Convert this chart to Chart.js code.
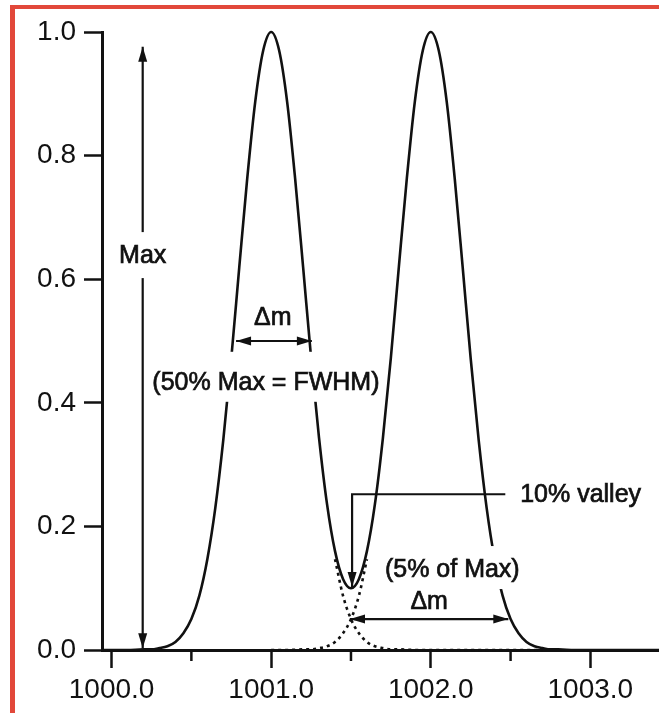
<!DOCTYPE html>
<html>
<head>
  <meta charset="UTF-8">
  <title>Resolution: 10% valley and FWHM</title>
  <script src="https://cdn.jsdelivr.net/npm/chart.js"></script>
  <style>
    body { margin: 0; background: #fff; }
    #wrap { position: relative; width: 659px; height: 713px; }
    #frame { position: absolute; left: 10px; top: 5px; right: 0; bottom: 0;
             border-left: 5px solid #e2483a; border-top: 4px solid #e2483a; pointer-events: none; }
    canvas { display: block; }
  </style>
</head>
<body>
  <div id="wrap">
    <canvas id="chart" width="659" height="713"></canvas>
    <div id="frame"></div>
  </div>

  <script>
    // mass axis (u) and the summed signal (solid line)
    const mass = [999.94, 1000.00, 1000.10, 1000.20, 1000.25, 1000.30, 1000.35, 1000.40, 1000.45, 1000.50,
                  1000.55, 1000.60, 1000.65, 1000.70, 1000.75, 1000.80, 1000.85, 1000.90, 1000.95, 1001.00,
                  1001.05, 1001.10, 1001.15, 1001.20, 1001.25, 1001.30, 1001.35, 1001.40, 1001.45, 1001.50,
                  1001.55, 1001.60, 1001.65, 1001.70, 1001.75, 1001.80, 1001.85, 1001.90, 1001.95, 1002.00,
                  1002.05, 1002.10, 1002.15, 1002.20, 1002.25, 1002.30, 1002.35, 1002.40, 1002.45, 1002.50,
                  1002.55, 1002.60, 1002.65, 1002.70, 1002.75, 1002.80, 1002.90, 1003.00, 1003.43];
    const signal = [0, 0, 0, 0.001, 0.001, 0.003, 0.006, 0.013, 0.027, 0.050,
                    0.088, 0.147, 0.230, 0.340, 0.472, 0.619, 0.763, 0.887, 0.970, 1.000,
                    0.970, 0.887, 0.763, 0.620, 0.473, 0.343, 0.236, 0.160, 0.115, 0.100,
                    0.115, 0.160, 0.236, 0.343, 0.473, 0.620, 0.763, 0.887, 0.970, 1.000,
                    0.970, 0.887, 0.763, 0.619, 0.472, 0.340, 0.230, 0.147, 0.088, 0.050,
                    0.027, 0.013, 0.006, 0.003, 0.001, 0.001, 0, 0, 0];

    // single peaks near the valley (dotted)
    const peak1Mass = [1001.40, 1001.45, 1001.50, 1001.55, 1001.60, 1001.65, 1001.70, 1001.75, 1001.80, 1001.90, 1002.00, 1002.70];
    const peak1 = [0.147, 0.088, 0.050, 0.027, 0.013, 0.006, 0.003, 0.001, 0.001, 0, 0, 0];
    const peak2Mass = [1001.00, 1001.10, 1001.20, 1001.25, 1001.30, 1001.35, 1001.40, 1001.45, 1001.50, 1001.55, 1001.60];
    const peak2 = [0, 0, 0.001, 0.001, 0.003, 0.006, 0.013, 0.027, 0.050, 0.088, 0.147];

    const xTicks = [1000, 1001, 1002, 1003];
    const xMinorTicks = [1000.5, 1001.5, 1002.5];
    const yTicks = [0, 0.2, 0.4, 0.6, 0.8, 1.0];

    // annotations in data coordinates
    const labels = [
      { text: 'Max', x: 1000.195, y: 0.639, box: [12, 12] },
      { text: 'Δm', x: 1001.01, y: 0.539 },
      { text: '(50% Max = FWHM)', x: 1000.967, y: 0.434, box: [19, 9] },
      { text: '(5% of Max)', x: 1002.135, y: 0.131, box: [12, 9] },
      { text: 'Δm', x: 1001.99, y: 0.079 },
      { text: '10% valley', x: 1002.56, y: 0.252, align: 'left' }
    ];
    const arrows = [
      { pts: [[1000.195, 0.976], [1000.195, 0.003]], start: true, end: true },
      { pts: [[1000.78, 0.5], [1001.255, 0.5]], start: true, end: true },
      { pts: [[1001.494, 0.05], [1002.486, 0.05]], start: true, end: true },
      { pts: [[1002.467, 0.252], [1001.507, 0.252], [1001.507, 0.102]], end: true }
    ];

    const ink = '#111';
    const tickFont = { family: 'Liberation Sans, Arial, sans-serif', size: 28 };
    const noteFont = '25px "Liberation Sans", Arial, sans-serif';

    function toPoints(xs, ys) {
      return xs.map((x, i) => ({ x: x, y: ys[i] }));
    }

    function head(ctx, x1, y1, x2, y2) {
      const a = Math.atan2(y2 - y1, x2 - x1);
      const len = 15, w = 4.5;
      ctx.beginPath();
      ctx.moveTo(x2, y2);
      ctx.lineTo(x2 - len * Math.cos(a) + w * Math.sin(a), y2 - len * Math.sin(a) - w * Math.cos(a));
      ctx.lineTo(x2 - len * Math.cos(a) - w * Math.sin(a), y2 - len * Math.sin(a) + w * Math.cos(a));
      ctx.closePath();
      ctx.fill();
    }

    const extras = {
      id: 'extras',
      afterDraw(chart) {
        const ctx = chart.ctx;
        const xs = chart.scales.x, ys = chart.scales.y;
        const bottom = chart.chartArea.bottom;
        ctx.save();
        ctx.strokeStyle = ink;
        ctx.fillStyle = ink;

        // short minor ticks
        ctx.lineWidth = 2.5;
        xMinorTicks.forEach(v => {
          const px = xs.getPixelForValue(v);
          ctx.beginPath();
          ctx.moveTo(px, bottom);
          ctx.lineTo(px, bottom + 11);
          ctx.stroke();
        });

        // arrows
        ctx.lineWidth = 2.2;
        arrows.forEach(a => {
          const p = a.pts.map(q => [xs.getPixelForValue(q[0]), ys.getPixelForValue(q[1])]);
          ctx.beginPath();
          ctx.moveTo(p[0][0], p[0][1]);
          for (let i = 1; i < p.length; i++) ctx.lineTo(p[i][0], p[i][1]);
          ctx.stroke();
          const n = p.length;
          if (a.end) head(ctx, p[n - 2][0], p[n - 2][1], p[n - 1][0], p[n - 1][1]);
          if (a.start) head(ctx, p[1][0], p[1][1], p[0][0], p[0][1]);
        });

        // labels, with a white patch where the text cuts a line
        ctx.font = noteFont;
        ctx.textBaseline = 'middle';
        ctx.lineWidth = 0.7;
        labels.forEach(l => {
          const px = xs.getPixelForValue(l.x), py = ys.getPixelForValue(l.y);
          const w = ctx.measureText(l.text).width;
          const left = l.align === 'left' ? px : px - w / 2;
          if (l.box) {
            ctx.fillStyle = '#fff';
            ctx.fillRect(left - 4, py - 11 - l.box[0], w + 8, 22 + l.box[0] + l.box[1]);
            ctx.fillStyle = ink;
          }
          ctx.textAlign = 'left';
          ctx.fillText(l.text, left, py + 1);
          ctx.strokeText(l.text, left, py + 1);
        });
        ctx.restore();
      }
    };

    const line = (data, dashed) => ({
      data: data,
      borderColor: ink,
      borderWidth: 2.6,
      borderDash: dashed ? [3, 4] : [],
      pointRadius: 0,
      fill: false,
      cubicInterpolationMode: 'monotone',
      clip: false
    });

    new Chart(document.getElementById('chart').getContext('2d'), {
      type: 'line',
      data: {
        datasets: [
          line(toPoints(peak1Mass, peak1), true),
          line(toPoints(peak2Mass, peak2), true),
          line(toPoints(mass, signal), false)
        ]
      },
      options: {
        responsive: false,
        animation: false,
        layout: { padding: { top: 32, right: 0, left: 0, bottom: 0 } },
        plugins: { legend: { display: false }, tooltip: { enabled: false } },
        scales: {
          x: {
            type: 'linear',
            min: 999.94,
            max: 1003.43,
            afterBuildTicks: s => { s.ticks = xTicks.map(v => ({ value: v })); },
            afterFit: s => { s.height = 63; },
            ticks: { callback: v => v.toFixed(1), font: tickFont, color: ink, padding: 5, maxRotation: 0, autoSkip: false },
            grid: { drawOnChartArea: false, tickLength: 18, tickWidth: 2.5, tickColor: ink },
            border: { color: ink, width: 3 }
          },
          y: {
            min: 0,
            max: 1,
            afterBuildTicks: s => { s.ticks = yTicks.map(v => ({ value: v })); },
            afterFit: s => { s.width = 102; },
            ticks: { callback: v => v.toFixed(1), font: tickFont, color: ink, padding: 8 },
            grid: { drawOnChartArea: false, tickLength: 18, tickWidth: 2.5, tickColor: ink },
            border: { color: ink, width: 3 }
          }
        }
      },
      plugins: [extras]
    });
  </script>
</body>
</html>
